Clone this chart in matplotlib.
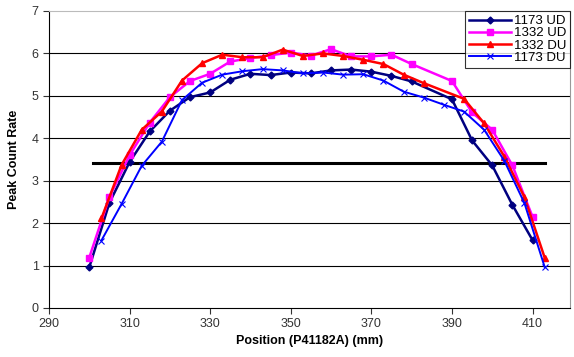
import matplotlib
matplotlib.use("Agg")
import matplotlib.pyplot as plt

plt.rcParams['font.family'] = ['Liberation Sans', 'DejaVu Sans']

# 1173 UD
x_1173ud = [300, 305, 310, 315, 320, 325, 330, 335, 340, 345, 350, 355, 360,
            365, 370, 375, 380, 390, 395, 400, 405, 410]
y_1173ud = [0.96, 2.48, 3.44, 4.16, 4.65, 4.97, 5.08, 5.38, 5.52, 5.49, 5.55,
            5.53, 5.60, 5.62, 5.57, 5.47, 5.34, 4.92, 3.95, 3.36, 2.43, 1.60]

# 1332 UD
x_1332ud = [300, 305, 310, 315, 320, 325, 330, 335, 340, 345, 350, 355, 360,
            365, 370, 375, 380, 390, 395, 400, 405, 410]
y_1332ud = [1.19, 2.62, 3.60, 4.37, 4.97, 5.35, 5.52, 5.81, 5.89, 5.96, 6.02,
            5.95, 6.10, 5.93, 5.93, 5.97, 5.75, 5.35, 4.61, 4.20, 3.36, 2.15]

# 1332 DU
x_1332du = [303, 308, 313, 318, 323, 328, 333, 338, 343, 348, 353, 358, 363,
            368, 373, 378, 383, 393, 398, 403, 408, 413]
y_1332du = [2.11, 3.37, 4.20, 4.63, 5.36, 5.77, 5.97, 5.91, 5.91, 6.09, 5.94,
            6.00, 5.94, 5.85, 5.75, 5.50, 5.30, 4.93, 4.35, 3.57, 2.61, 1.19]

# 1173 DU
x_1173du = [303, 308, 313, 318, 323, 328, 333, 338, 343, 348, 353, 358, 363,
            368, 373, 378, 383, 388, 393, 398, 403, 408, 413]
y_1173du = [1.59, 2.45, 3.35, 3.92, 4.90, 5.31, 5.50, 5.58, 5.63, 5.60, 5.53,
            5.55, 5.50, 5.51, 5.36, 5.10, 4.96, 4.79, 4.63, 4.20, 3.47, 2.47, 0.97]

# threshold line
thr_x = [301, 413]
thr_y = [3.42, 3.42]

x_ticks = [290, 310, 330, 350, 370, 390, 410]

fig = plt.figure(figsize=(5.74, 3.57), dpi=100)
ax = fig.add_axes([49 / 574, 49 / 357, 521 / 574, 297 / 357])

for yv in range(1, 7):
    ax.axhline(yv, color='black', lw=0.8, zorder=1)

ax.plot(thr_x, thr_y, color='black', lw=2.2, zorder=2)
ax.plot(x_1173ud, y_1173ud, color='#000080', lw=1.8, marker='D', ms=3.5,
        label='1173 UD', zorder=3)
ax.plot(x_1332ud, y_1332ud, color='#FF00FF', lw=1.8, marker='s', ms=4.5,
        label='1332 UD', zorder=3)
ax.plot(x_1332du, y_1332du, color='#FF0000', lw=1.8, marker='^', ms=5,
        label='1332 DU', zorder=3)
ax.plot(x_1173du, y_1173du, color='#0000FF', lw=1.4, marker='x', ms=4,
        mew=0.8, label='1173 DU', zorder=3)

ax.set_xlim(290, 419.3)
ax.set_ylim(0, 7)
ax.set_xticks(x_ticks)
ax.set_yticks(range(0, 8))
ax.tick_params(labelsize=9, colors='#333333', length=4, direction='out')

ax.spines['top'].set_color('#bbbbbb')
ax.spines['right'].set_color('#999999')
ax.spines['left'].set_color('black')
ax.spines['bottom'].set_color('black')

ax.set_xlabel('Position (P41182A) (mm)', fontsize=9, fontweight='bold',
              labelpad=3)
ax.set_ylabel('Peak Count Rate', fontsize=9, fontweight='bold', labelpad=8)

leg = ax.legend(loc='upper right', bbox_to_anchor=(1.0, 1.0), fontsize=9.5,
                frameon=True, fancybox=False, edgecolor='black',
                borderpad=0.3, labelspacing=0.0, handlelength=3.2,
                handletextpad=0.2, borderaxespad=0.0)
leg.get_frame().set_linewidth(0.8)

fig.savefig('out.png', dpi=100)
